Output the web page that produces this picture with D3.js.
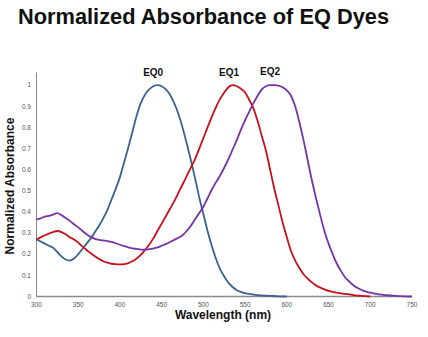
<!DOCTYPE html>
<html>
<head>
<meta charset="utf-8">
<script src="https://cdn.jsdelivr.net/npm/d3@7"></script>
<style>
  html, body { margin: 0; padding: 0; background: #fff; }
  svg { display: block; font-family: "Liberation Sans", Arial, sans-serif; }
</style>
</head>
<body>
<svg id="chart"></svg>
<script>
// absorbance spectra, normalized to peak = 1
const eq0 = [
  [300,0.27],[305,0.26],[310,0.25],[315,0.24],[320,0.23],[325,0.21],[330,0.19],[335,0.175],
  [340,0.17],[345,0.18],[350,0.2],[355,0.225],[360,0.25],[365,0.275],[370,0.305],[375,0.335],
  [380,0.37],[385,0.41],[390,0.46],[395,0.51],[400,0.565],[405,0.635],[410,0.705],[415,0.78],
  [420,0.855],[425,0.915],[430,0.955],[435,0.98],[440,0.995],[445,1.0],[450,0.995],[455,0.98],
  [460,0.955],[465,0.915],[470,0.865],[475,0.8],[480,0.725],[485,0.645],[490,0.56],[495,0.47],
  [500,0.39],[505,0.31],[510,0.24],[515,0.18],[520,0.13],[525,0.095],[530,0.065],[535,0.045],
  [540,0.03],[545,0.022],[550,0.016],[555,0.012],[560,0.009],[570,0.005],[580,0.003],[590,0.001],[600,0]
];
const eq1 = [
  [300,0.27],[305,0.28],[310,0.29],[315,0.298],[320,0.305],[325,0.31],[330,0.305],[335,0.295],
  [340,0.28],[345,0.27],[350,0.255],[355,0.237],[360,0.22],[365,0.205],[370,0.19],[375,0.177],
  [380,0.167],[385,0.16],[390,0.155],[395,0.153],[400,0.152],[405,0.153],[410,0.158],[415,0.167],
  [420,0.18],[425,0.197],[430,0.22],[435,0.245],[440,0.275],[445,0.31],[450,0.345],[455,0.38],
  [460,0.415],[465,0.45],[470,0.49],[475,0.53],[480,0.57],[485,0.61],[490,0.65],[495,0.7],
  [500,0.75],[505,0.8],[510,0.85],[515,0.895],[520,0.935],[525,0.965],[530,0.99],[535,1.0],
  [540,0.995],[545,0.983],[550,0.965],[555,0.93],[560,0.89],[565,0.83],[570,0.76],[575,0.69],
  [580,0.6],[585,0.51],[590,0.43],[595,0.35],[600,0.28],[605,0.215],[610,0.17],[615,0.135],
  [620,0.105],[625,0.085],[630,0.067],[635,0.052],[640,0.042],[645,0.034],[650,0.027],[660,0.018],
  [670,0.012],[680,0.007],[690,0.003],[700,0]
];
const eq2 = [
  [300,0.365],[305,0.37],[310,0.378],[315,0.382],[320,0.388],[325,0.395],[330,0.385],[335,0.372],
  [340,0.358],[345,0.342],[350,0.327],[355,0.31],[360,0.295],[365,0.282],[370,0.273],[375,0.268],
  [380,0.265],[385,0.262],[390,0.258],[395,0.252],[400,0.245],[405,0.238],[410,0.233],[415,0.228],
  [420,0.225],[425,0.222],[430,0.222],[435,0.224],[440,0.227],[445,0.232],[450,0.24],[455,0.248],
  [460,0.258],[465,0.268],[470,0.278],[475,0.29],[480,0.31],[485,0.335],[490,0.365],[495,0.395],
  [500,0.425],[505,0.465],[510,0.505],[515,0.54],[520,0.572],[525,0.61],[530,0.65],[535,0.695],
  [540,0.74],[545,0.79],[550,0.835],[555,0.875],[560,0.915],[565,0.95],[570,0.98],[575,0.995],
  [580,1.0],[585,1.0],[590,0.998],[595,0.99],[600,0.975],[605,0.95],[610,0.9],[615,0.825],
  [620,0.74],[625,0.645],[630,0.55],[635,0.465],[640,0.385],[645,0.31],[650,0.25],[655,0.2],
  [660,0.155],[665,0.12],[670,0.09],[675,0.07],[680,0.052],[685,0.04],[690,0.03],[695,0.023],
  [700,0.018],[710,0.01],[720,0.006],[730,0.003],[740,0.001],[750,0]
];

const seriesNames = ["EQ0", "EQ1", "EQ2"];
const seriesColors = ["#3b6190", "#c8101a", "#7434a8"];
const xTicks = [300, 350, 400, 450, 500, 550, 600, 650, 700, 750];
const yTicks = [0, 0.1, 0.2, 0.3, 0.4, 0.5, 0.6, 0.7, 0.8, 0.9, 1];
// label anchors: wavelength / height above the peak
const labelPos = [[447, 1.045], [538, 1.045], [587, 1.05]];

const width = 428, height = 337;
const svg = d3.select("#chart").attr("width", width).attr("height", height);

const x = d3.scaleLinear().domain([300, 750]).range([36.5, 412]);
const y = d3.scaleLinear().domain([0, 1.06]).range([296.5, 72.5]);

svg.append("text")
  .attr("x", 18).attr("y", 24)
  .attr("font-size", 21.8).attr("font-weight", "bold").attr("fill", "#111")
  .text("Normalized Absorbance of EQ Dyes");

// axis lines
svg.append("line")
  .attr("x1", x(300)).attr("x2", x(300))
  .attr("y1", y(1.06)).attr("y2", y(0))
  .attr("stroke", "#8a8a8a").attr("stroke-width", 1);
svg.append("line")
  .attr("x1", x(300)).attr("x2", x(750))
  .attr("y1", y(0)).attr("y2", y(0))
  .attr("stroke", "#8a8a8a").attr("stroke-width", 1.5);

// tick labels
svg.append("g").selectAll("text").data(yTicks).join("text")
  .attr("x", 31).attr("y", d => y(d) + 2.2)
  .attr("text-anchor", "end").attr("font-size", 6.5).attr("fill", "#555")
  .text(d => d3.format("~g")(d));

svg.append("g").selectAll("text").data(xTicks).join("text")
  .attr("x", d => x(d)).attr("y", 306.5)
  .attr("text-anchor", "middle").attr("font-size", 6.5).attr("fill", "#555")
  .text(d => d);

// axis titles
svg.append("text")
  .attr("transform", "translate(14,186) rotate(-90)")
  .attr("text-anchor", "middle").attr("font-size", 12).attr("font-weight", "bold").attr("fill", "#111")
  .text("Normalized Absorbance");
svg.append("text")
  .attr("x", 223).attr("y", 319)
  .attr("text-anchor", "middle").attr("font-size", 12).attr("font-weight", "bold").attr("fill", "#111")
  .text("Wavelength (nm)");

const line = d3.line()
  .x(d => x(d[0]))
  .y(d => y(d[1]))
  .curve(d3.curveMonotoneX);

[eq0, eq1, eq2].forEach((s, i) => {
  svg.append("path")
    .datum(s)
    .attr("fill", "none")
    .attr("stroke", seriesColors[i])
    .attr("stroke-width", 1.8)
    .attr("d", line);
});

svg.append("g").selectAll("text").data(seriesNames).join("text")
  .attr("x", (d, i) => x(labelPos[i][0]) - 6)
  .attr("y", (d, i) => y(labelPos[i][1]))
  .attr("text-anchor", "middle").attr("font-size", 10).attr("font-weight", "bold").attr("fill", "#111")
  .text(d => d);
</script>
</body>
</html>
